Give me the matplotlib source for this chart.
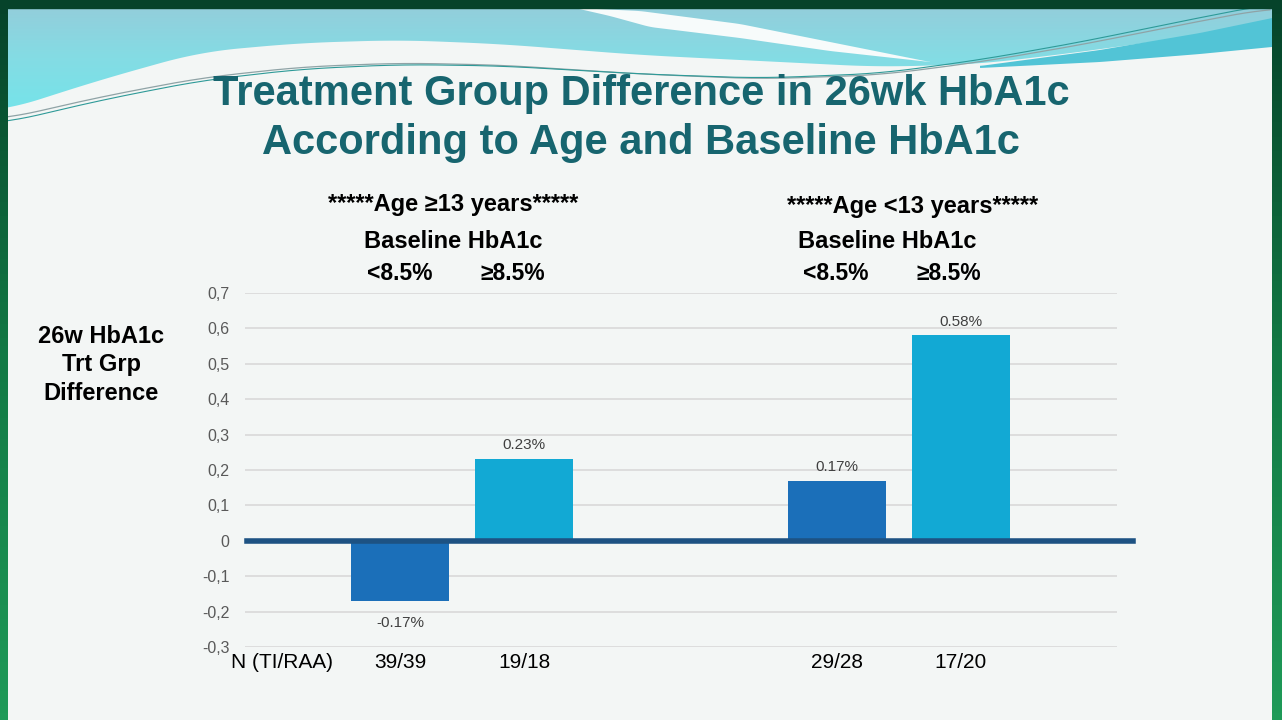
import numpy as np
import matplotlib
matplotlib.use("Agg")
import matplotlib.pyplot as plt
from matplotlib.colors import LinearSegmentedColormap
from matplotlib.patches import Polygon, Rectangle

# --- data ---
groups = ["<8.5%", "\u22658.5%", "<8.5%", "\u22658.5%"]
age_groups = ["*****Age \u226513 years*****", "*****Age <13 years*****"]
values = [-0.17, 0.23, 0.17, 0.58]
n_labels = ["39/39", "19/18", "29/28", "17/20"]
yticks = [-0.3, -0.2, -0.1, 0.0, 0.1, 0.2, 0.3, 0.4, 0.5, 0.6, 0.7]

W, H = 1282, 720
DARK_BLUE = "#1B6FB9"
LIGHT_BLUE = "#12A9D4"
TITLE_COL = "#17656F"

plt.rcParams["font.family"] = ["Liberation Sans", "DejaVu Sans"]


def px(x, y):
    return x / W, 1 - y / H


def smooth(pts, n=400, win=25):
    xs, ys = zip(*pts)
    xx = np.linspace(xs[0], xs[-1], n)
    yy = np.interp(xx, xs, ys)
    pad = np.pad(yy, win, mode="edge")
    yy = np.convolve(pad, np.ones(win) / win, mode="same")[win:-win]
    return xx, yy


fig = plt.figure(figsize=(W / 100, H / 100), dpi=100)

# background slide
bg = fig.add_axes([0, 0, 1, 1], zorder=0)
bg.set_xlim(0, W)
bg.set_ylim(H, 0)
bg.axis("off")
bg.add_patch(Rectangle((0, 0), W, H, color="#F3F6F5", zorder=0))

# cyan wave at the top
cx, cy = smooth([(0, 112), (100, 80), (200, 52), (300, 43), (400, 40), (500, 44),
                 (640, 55), (780, 62), (880, 67), (980, 64), (1080, 52), (1180, 38), (1282, 25)])
poly = Polygon(np.vstack([np.column_stack([cx, cy]), [[W, 0], [0, 0]]]), closed=True,
               facecolor="none", edgecolor="none")
bg.add_patch(poly)
grad = np.linspace(0, 1, 100).reshape(-1, 1)
cmap = LinearSegmentedColormap.from_list("wave", ["#95CCDA", "#84DCE4", "#74E4EA"])
im = bg.imshow(grad, cmap=cmap, extent=[0, W, 115, 0], aspect="auto", zorder=1)
im.set_clip_path(poly)

# white streak
ux, uy = smooth([(575, 8), (640, 11), (740, 24), (830, 42), (930, 62)], win=15)
lx, ly = smooth([(575, 8), (610, 16), (650, 27), (740, 38), (830, 51), (930, 62)], win=15)
streak = np.vstack([np.column_stack([ux, uy]), np.column_stack([lx[::-1], ly[::-1]])])
bg.add_patch(Polygon(streak, closed=True, facecolor="#F7FBFB", edgecolor="none", zorder=2))

# darker band on the right
ux, uy = smooth([(980, 66), (1100, 50), (1200, 33), (1282, 16)], win=15)
lx, ly = smooth([(980, 68), (1100, 62), (1200, 54), (1282, 46)], win=15)
band = np.vstack([np.column_stack([ux, uy]), np.column_stack([lx[::-1], ly[::-1]])])
bg.add_patch(Polygon(band, closed=True, facecolor="#52C4D6", edgecolor="none", zorder=2))

# thin swoosh lines
line_pts = [(0, 120), (100, 97), (200, 78), (300, 67), (400, 63), (500, 65), (640, 74),
            (760, 79), (880, 75), (980, 62), (1080, 45), (1180, 25), (1270, 8)]
lx, ly = smooth(line_pts)
bg.plot(lx, ly, color="#8FA3A6", lw=0.9, zorder=3)
bg.plot(lx, ly + np.linspace(4, -4, len(ly)), color="#2E9A98", lw=0.8, zorder=3)

# green frame
gcm = LinearSegmentedColormap.from_list("frame", ["#06432A", "#127A45", "#1F9A58"])
bg.imshow(grad, cmap=gcm, extent=[0, 8, H, 0], aspect="auto", zorder=4)
bg.imshow(grad, cmap=gcm, extent=[1272, W, H, 0], aspect="auto", zorder=4)
bg.add_patch(Rectangle((0, 0), W, 8, color="#06432A", zorder=5))
bg.set_xlim(0, W)
bg.set_ylim(H, 0)

# --- chart ---
ax = fig.add_axes([245 / W, 1 - 647 / H, 872 / W, 354 / H], zorder=2)
ax.patch.set_alpha(0)
pos = [0, 1, 3.52, 4.52]
colors = [DARK_BLUE, LIGHT_BLUE, DARK_BLUE, LIGHT_BLUE]
ax.bar(pos, values, width=0.79, color=colors, zorder=2)

ax.set_xlim(-1.25, 5.78)
ax.set_ylim(-0.3, 0.7)
ax.set_yticks(yticks)
ax.set_yticklabels(["0" if abs(t) < 1e-9 else f"{t:.1f}".replace(".", ",") for t in yticks],
                   color="#595959", fontsize=11.5)
ax.yaxis.grid(True, color="#D9D9D9", lw=1.2, zorder=0)
ax.tick_params(axis="both", length=0)
ax.tick_params(axis="y", pad=11)
for s in ax.spines.values():
    s.set_visible(False)

ax.axhline(0, xmin=2 / 872, xmax=888 / 872, color="#1D5283", lw=4, clip_on=False, zorder=3)

for x, v in zip(pos, values):
    if v >= 0:
        ax.annotate(f"{v:.2f}%", (x, v), xytext=(0, 5), textcoords="offset points",
                    ha="center", va="bottom", fontsize=11, color="#404040")
    else:
        ax.annotate(f"{v:.2f}%", (x, v), xytext=(0, -11), textcoords="offset points",
                    ha="center", va="top", fontsize=11, color="#404040")

ax.set_xticks([-0.95] + pos)
ax.set_xticklabels(["N (TI/RAA)"] + n_labels, fontsize=15, color="black")
ax.tick_params(axis="x", pad=4)

# --- header texts ---
fig.text(*px(641, 94), "Treatment Group Difference in 26wk HbA1c", ha="center", va="center",
         fontsize=30, fontweight="bold", color=TITLE_COL)
fig.text(*px(641, 143), "According to Age and Baseline HbA1c", ha="center", va="center",
         fontsize=30, fontweight="bold", color=TITLE_COL)

fig.text(*px(453, 204), age_groups[0], ha="center", va="center", fontsize=17,
         fontweight="bold")
fig.text(*px(913, 207), age_groups[1], ha="center", va="center", fontsize=17,
         fontweight="bold")
for cx_ in (453, 887):
    fig.text(*px(cx_, 242), "Baseline HbA1c", ha="center", va="center", fontsize=17,
             fontweight="bold")
for cx_, lab in zip((400, 513, 836, 949), groups):
    fig.text(*px(cx_, 273), lab, ha="center", va="center", fontsize=16.5,
             fontweight="bold")

fig.text(*px(101, 365), "26w HbA1c\nTrt Grp\nDifference", ha="center", va="center",
         fontsize=17, fontweight="bold", linespacing=1.3)

fig.savefig("out.png", dpi=100)
